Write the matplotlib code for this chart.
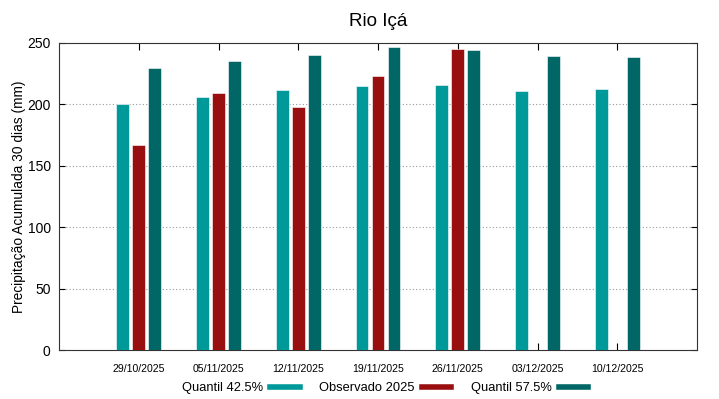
import matplotlib
matplotlib.use("Agg")
import matplotlib.pyplot as plt
from matplotlib.lines import Line2D
import numpy as np

plt.rcParams["font.family"] = ["Liberation Sans", "DejaVu Sans"]

DATES = ["29/10/2025", "05/11/2025", "12/11/2025", "19/11/2025",
         "26/11/2025", "03/12/2025", "10/12/2025"]
Q425 = [200.0, 206.3, 211.7, 215.0, 215.5, 211.0, 212.2]
OBS_2025 = [166.7, 209.0, 198.0, 223.0, 245.4, np.nan, np.nan]
Q575 = [229.6, 235.0, 240.2, 246.5, 244.0, 239.4, 238.3]

SERIES = [("Quantil 42.5%", Q425, "#009999"),
          ("Observado 2025", OBS_2025, "#990f0f"),
          ("Quantil 57.5%", Q575, "#006666")]

fig = plt.figure(figsize=(7.19, 3.99), dpi=100)
ax = fig.add_axes([59 / 719, 1 - 350 / 399, 638 / 719, 307 / 399])

x = np.arange(len(DATES))
width = 0.16
for k, (name, vals, color) in enumerate(SERIES):
    ax.bar(x + (k - 1) * 0.2, vals, width, color=color,
           edgecolor="white", linewidth=0.4, zorder=3)

ax.set_xlim(-1, 7)
ax.set_ylim(0, 250)
ax.set_yticks([0, 50, 100, 150, 200, 250])
ax.set_xticks(x)
ax.set_xticklabels(DATES, fontsize=7.6)
ax.tick_params(axis="y", labelsize=10, direction="in", right=True, length=4, pad=6)
ax.tick_params(axis="x", direction="in", top=True, length=5, pad=10)
for yv in [50, 100, 150, 200]:
    ax.axhline(yv, color="#999999", linestyle=(0, (1, 2)), linewidth=0.8, zorder=1)
for s in ax.spines.values():
    s.set_color("#333333")

ax.set_ylabel("Precipitação Acumulada 30 dias (mm)", fontsize=9.9, labelpad=1)
ax.set_title("Rio Içá", fontsize=13.6, pad=12)

handles = [Line2D([0], [0], color=c, lw=4) for _, _, c in SERIES]
labels = [n for n, _, _ in SERIES]
fig.legend(handles, labels, loc="center", bbox_to_anchor=(385 / 719, 1 - 388 / 399),
           ncol=3, frameon=False, markerfirst=False, handlelength=2.3,
           columnspacing=1.5, handletextpad=0.55, fontsize=9.3)

fig.savefig("out.png", dpi=100)
